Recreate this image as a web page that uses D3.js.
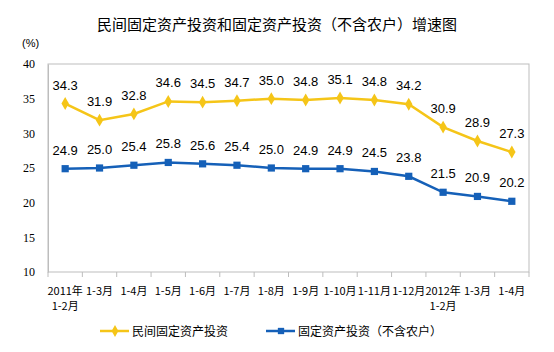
<html>
<head>
<meta charset="utf-8">
<title>民间固定资产投资增速图</title>
<style>
  body { margin: 0; background: #fff; }
  svg text { font-family: "Liberation Sans", Arial, "Noto Sans CJK SC", sans-serif; fill: #000; }
</style>
<script src="https://d3js.org/d3.v7.min.js"></script>
</head>
<body>
<script>
var months = ["2011年\n1-2月", "1-3月", "1-4月", "1-5月", "1-6月", "1-7月", "1-8月",
              "1-9月", "1-10月", "1-11月", "1-12月", "2012年\n1-2月", "1-3月", "1-4月"];
var privateInv = [34.3, 31.9, 32.8, 34.6, 34.5, 34.7, 35.0, 34.8, 35.1, 34.8, 34.2, 30.9, 28.9, 27.3];
var fixedInv = [24.9, 25.0, 25.4, 25.8, 25.6, 25.4, 25.0, 24.9, 24.9, 24.5, 23.8, 21.5, 20.9, 20.2];
var yTicks = [10, 15, 20, 25, 30, 35, 40];
var seriesNames = ["民间固定资产投资", "固定资产投资（不含农户）"];

var width = 554, height = 352;
var plotL = 48, plotR = 529, plotT = 64, plotB = 272;
var yellow = "#F5C518", blue = "#1560B8";

var svg = d3.select("body").append("svg")
    .attr("width", width)
    .attr("height", height);

svg.append("text")
    .attr("x", 277).attr("y", 30)
    .attr("text-anchor", "middle")
    .style("font-size", "15px")
    .style("font-family", "'Noto Sans CJK SC', sans-serif")
    .text("民间固定资产投资和固定资产投资（不含农户）增速图");

svg.append("text")
    .attr("x", 22).attr("y", 47)
    .style("font-size", "11px")
    .text("(%)");

var x = d3.scaleBand().domain(d3.range(months.length)).range([plotL, plotR]);
var y = d3.scaleLinear().domain([10, 40]).range([plotB, plotT]);

// plot frame
svg.append("rect")
    .attr("x", plotL).attr("y", plotT)
    .attr("width", plotR - plotL).attr("height", plotB - plotT)
    .attr("fill", "none").attr("stroke", "#bdbdbd");

// y axis
var yAxis = svg.append("g")
    .attr("transform", "translate(" + plotL + ",0)")
    .call(d3.axisLeft(y).tickValues(yTicks).tickSize(0).tickPadding(13));
yAxis.select(".domain").attr("stroke", "#bdbdbd");
yAxis.selectAll("text").style("font-size", "12px").style("font-family", "'Liberation Serif', serif");

// x axis ticks at band edges
svg.append("g").selectAll("line")
    .data(d3.range(months.length + 1))
    .enter().append("line")
    .attr("x1", d => plotL + d * x.step())
    .attr("x2", d => plotL + d * x.step())
    .attr("y1", plotB).attr("y2", plotB + 5)
    .attr("stroke", "#bdbdbd");

var xl = svg.append("g").selectAll("text")
    .data(months)
    .enter().append("text")
    .attr("x", (d, i) => x(i) + x.bandwidth() / 2)
    .attr("y", 295)
    .attr("text-anchor", "middle")
    .style("font-size", "11px")
    .style("font-family", "'Noto Sans CJK SC', sans-serif");
xl.selectAll("tspan")
    .data(d => d.split("\n"))
    .enter().append("tspan")
    .attr("x", function() { return d3.select(this.parentNode).attr("x"); })
    .attr("dy", (d, i) => i ? 15 : 0)
    .text(d => d);

var line = d3.line()
    .x((d, i) => x(i) + x.bandwidth() / 2)
    .y(d => y(d));

function drawSeries(vals, color, shape) {
  var g = svg.append("g");
  g.append("path")
      .datum(vals)
      .attr("d", line)
      .attr("fill", "none")
      .attr("stroke", color)
      .attr("stroke-width", 2.5);
  g.selectAll("path.m")
      .data(vals)
      .enter().append("path")
      .attr("class", "m")
      .attr("transform", (d, i) => "translate(" + (x(i) + x.bandwidth() / 2) + "," + y(d) + ")")
      .attr("d", d3.symbol().type(shape).size(shape === d3.symbolDiamond ? 48 : 52))
      .attr("fill", color);
  g.selectAll("text")
      .data(vals)
      .enter().append("text")
      .attr("x", (d, i) => x(i) + x.bandwidth() / 2)
      .attr("y", d => y(d) - 14)
      .attr("text-anchor", "middle")
      .style("font-size", "13px")
      .text(d => d.toFixed(1));
}

drawSeries(privateInv, yellow, d3.symbolDiamond);
drawSeries(fixedInv, blue, d3.symbolSquare);

// legend
var legend = [{x: 100, color: yellow, shape: d3.symbolDiamond},
              {x: 266, color: blue, shape: d3.symbolSquare}];
legend.forEach(function(l, i) {
  var g = svg.append("g").attr("transform", "translate(" + l.x + ",331)");
  g.append("line").attr("x1", 0).attr("x2", 29).attr("stroke", l.color).attr("stroke-width", 2.5);
  g.append("path").attr("transform", "translate(15,0)")
      .attr("d", d3.symbol().type(l.shape).size(40)).attr("fill", l.color);
  g.append("text").attr("x", 32).attr("y", 4.5)
      .style("font-size", "12px")
      .style("font-family", "'Noto Sans CJK SC', sans-serif")
      .text(seriesNames[i]);
});
</script>
</body>
</html>
